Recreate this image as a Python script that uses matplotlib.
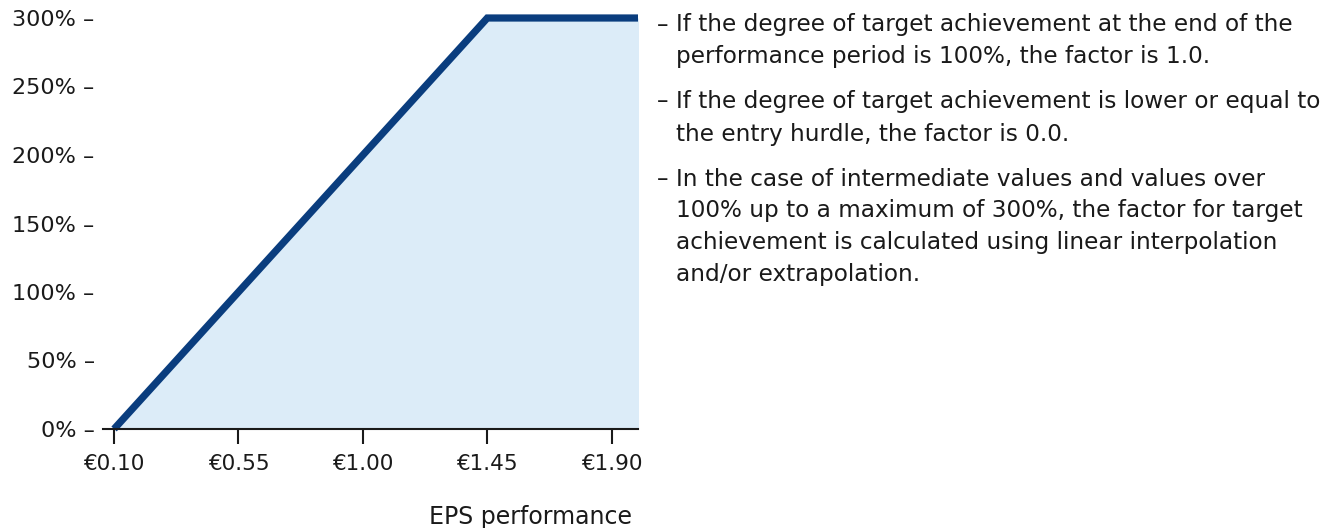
import matplotlib
matplotlib.use("Agg")
import matplotlib.pyplot as plt
from matplotlib.transforms import Bbox, TransformedBbox

# data
eps = [0.10, 1.45, 2.10]          # EPS values (line continues flat past the axis edge)
factor = [0, 300, 300]            # payout factor in %
xticks = [0.10, 0.55, 1.00, 1.45, 1.90]
xtick_labels = ["€0.10", "€0.55", "€1.00", "€1.45", "€1.90"]
yticks = [0, 50, 100, 150, 200, 250, 300]
ytick_labels = [f"{v}% –" for v in yticks]

notes = [
    ["If the degree of target achievement at the end of the",
     "performance period is 100%, the factor is 1.0."],
    ["If the degree of target achievement is lower or equal to",
     "the entry hurdle, the factor is 0.0."],
    ["In the case of intermediate values and values over",
     "100% up to a maximum of 300%, the factor for target",
     "achievement is calculated using linear interpolation",
     "and/or extrapolation."],
]

plt.rcParams['font.family'] = ['DejaVu Sans']
W, H = 1340, 528
fig = plt.figure(figsize=(W / 100, H / 100), dpi=100)

left, right, bottom, top = 103, 638, 429, 18
ax = fig.add_axes([left / W, 1 - bottom / H, (right - left) / W, (bottom - top) / H])

NAVY = "#0a3d7e"
FILL = "#dcecf8"
TXT = "#1a1a1a"
ax.fill_between(eps, factor, 0, color=FILL, lw=0)
line, = ax.plot(eps, factor, color=NAVY, lw=5.2, solid_joinstyle="miter",
                solid_capstyle="butt")
# clip only left/right so the 300% line isn't cut in half at the top
line.set_clip_box(TransformedBbox(Bbox([[0.0, -0.1], [1.0, 1.1]]), ax.transAxes))

ax.set_xlim(0.06, 1.995)
ax.set_ylim(0, 300)

for s in ["top", "right", "left"]:
    ax.spines[s].set_visible(False)
ax.spines["bottom"].set_linewidth(1.5)
ax.spines["bottom"].set_color(TXT)

ax.set_xticks(xticks)
ax.set_xticklabels(xtick_labels, fontsize=15.5)
ax.tick_params(axis="x", length=11, width=1.5, color=TXT, pad=7, labelcolor=TXT)
ax.set_yticks(yticks)
ax.set_yticklabels(ytick_labels, fontsize=16)
ax.tick_params(axis="y", length=0, pad=6, labelcolor=TXT)

fig.text(632 / W, 1 - 517 / H, "EPS performance", ha="right", va="center",
         fontsize=17, color=TXT)

y = 25
for para in notes:
    for i, txt in enumerate(para):
        if i == 0:
            fig.text(657 / W, 1 - y / H, "–", ha="left", va="center", fontsize=16.7, color=TXT)
        fig.text(676 / W, 1 - y / H, txt, ha="left", va="center", fontsize=16.7, color=TXT)
        y += 32
    y += 13

fig.savefig("out.png", dpi=100)
